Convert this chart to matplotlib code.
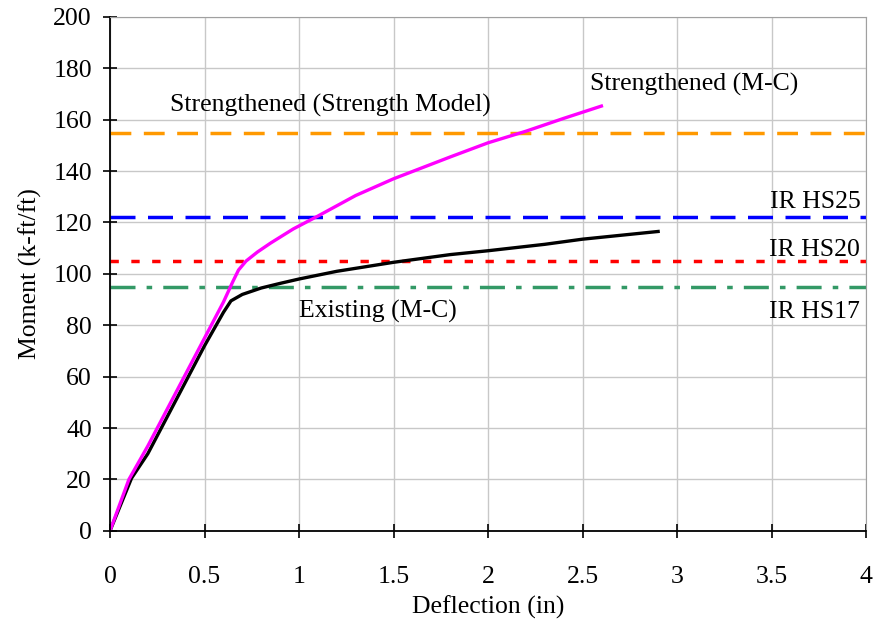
import matplotlib.pyplot as plt

plt.rcParams['font.family'] = ['Liberation Serif', 'DejaVu Serif']
plt.rcParams['lines.scale_dashes'] = False

# Moment-curvature curves
existing_x = [0, 0.05, 0.114, 0.2, 0.3, 0.4, 0.5, 0.6, 0.64, 0.7, 0.8, 0.9, 1.0,
              1.2, 1.5, 1.8, 2.0, 2.3, 2.5, 2.7, 2.9]
existing_y = [0, 9, 20.5, 30, 44, 58, 72, 85, 89.5, 92, 94.5, 96.3, 98,
              101, 104.5, 107.5, 109, 111.5, 113.5, 115, 116.5]

strength_x = [0, 0.05, 0.1, 0.2, 0.3, 0.4, 0.5, 0.6, 0.65, 0.68, 0.72, 0.78, 0.85,
              0.97, 1.1, 1.3, 1.5, 1.8, 2.0, 2.2, 2.4, 2.6]
strength_y = [0, 10, 20, 33, 47, 61, 75, 89, 97, 101.5, 105, 108.5, 112,
              117.5, 122.5, 130.5, 137, 145.5, 151, 155.5, 160.5, 165.3]

# Rating levels (k-ft/ft)
strengthened_model = 155
ir_hs25 = 122
ir_hs20 = 105
ir_hs17 = 95

fig = plt.figure(figsize=(8.73, 6.26), dpi=100)
ax = fig.add_axes([0.126, 0.152, 0.866, 0.821])

ax.axhline(strengthened_model, color='#ff9900', lw=2.5, dashes=(15, 9))
ax.axhline(ir_hs25, color='#0000ff', lw=2.5, dashes=(18, 9))
ax.axhline(ir_hs20, color='#ff0000', lw=2.5, dashes=(6, 9))
ax.axhline(ir_hs17, color='#339966', lw=2.5, dashes=(18, 8, 4, 8))

ax.plot(existing_x, existing_y, color='black', lw=2.4)
ax.plot(strength_x, strength_y, color='#ff00ff', lw=2.4)

fs = 18.5
ax.text(0.32, 163, 'Strengthened (Strength Model)', fontsize=fs)
ax.text(2.54, 171.5, 'Strengthened (M-C)', fontsize=fs)
ax.text(3.97, 125.5, 'IR HS25', fontsize=fs, ha='right')
ax.text(3.97, 107, 'IR HS20', fontsize=fs, ha='right')
ax.text(3.97, 83, 'IR HS17', fontsize=fs, ha='right')
ax.text(1.0, 83, 'Existing (M-C)', fontsize=fs)

ax.set_xlim(0, 4)
ax.set_ylim(0, 200)
ax.set_xticks([0, 0.5, 1, 1.5, 2, 2.5, 3, 3.5, 4])
ax.set_xticklabels(['0', '0.5', '1', '1.5', '2', '2.5', '3', '3.5', '4'])
ax.set_yticks(range(0, 201, 20))
ax.tick_params(direction='inout', length=10, width=1.2, labelsize=fs)
ax.tick_params(axis='x', pad=20)
ax.tick_params(axis='y', pad=8)
ax.grid(True, color='#c8c8c8', lw=1)
ax.set_axisbelow(True)
for s in ['top', 'right']:
    ax.spines[s].set_color('#a0a0a0')
for s in ['left', 'bottom']:
    ax.spines[s].set_linewidth(1.3)

ax.set_xlabel('Deflection (in)', fontsize=fs, labelpad=6)
ax.set_ylabel('Moment (k-ft/ft)', fontsize=fs, labelpad=8)

fig.savefig('out.png', dpi=100)
